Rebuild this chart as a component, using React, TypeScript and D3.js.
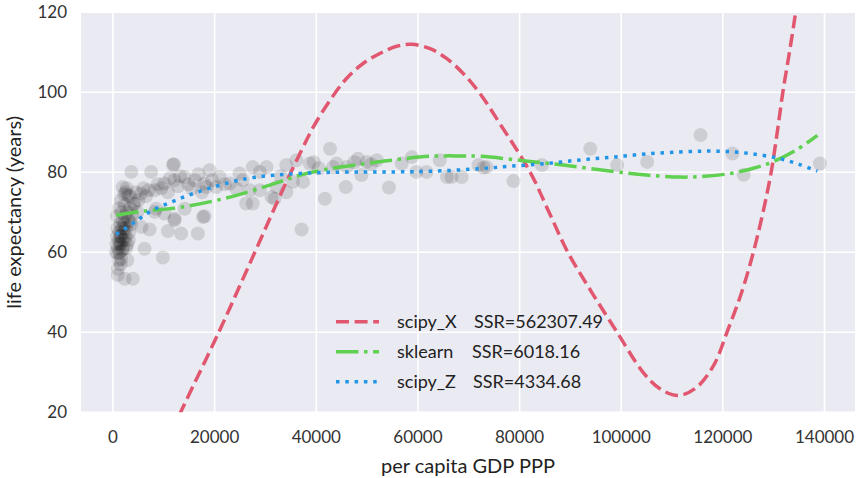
import * as d3 from 'd3';
import { useEffect, useRef } from 'react';

// scatter: per capita GDP PPP vs life expectancy
const gdp = [
  700, 800, 900, 1000, 1100, 1200, 1300, 1400, 1500, 1600, 1700, 1800, 1900, 2000, 2100, 2200, 2300, 2400,
  2500, 2600, 2700, 2800, 3000, 3200, 3400, 3600, 3800, 4000, 1000, 1600, 950, 950, 2300, 3900, 1300, 1500,
  2800, 3300, 1900, 2900, 2300, 4200, 3600, 800, 1200, 1600, 2500, 3300, 4500, 5000, 4800, 5600, 6200, 7200,
  9800, 10800, 13400, 16700, 12100, 10100, 18000, 8200, 14100, 8500, 17700, 12100,
  5500, 6000, 6500, 7000, 7500, 8200, 8800, 9500, 10100, 10800, 11200, 11800, 12000, 12100, 12800, 13200,
  14100, 14800, 15500, 16100, 16800, 17500, 18000, 18400, 19000, 19500, 20300, 21000, 22000, 23000, 24300,
  24900, 25500, 26200, 26900, 27500, 27500, 28900, 28900, 30200, 31200, 31800, 32200, 33000, 34100, 34100,
  35400, 36100, 37100, 37400, 38700, 39500, 40500, 41700, 42700, 43300, 44000, 45800, 46000, 47500, 48200,
  48900, 49900, 50800, 51900, 54300, 56800, 58800, 59700, 61700, 64300, 65700, 66600, 68600, 71900, 72900,
  73500, 78800, 84400, 93900, 99200, 105100, 115600, 121900, 124100, 139100,
  600, 1100, 1400, 1800, 2100, 2600, 3100, 1700, 2200, 2700,
];
const lifeExp = [
  62, 64, 66, 61, 63, 65, 60, 67, 62, 64, 66, 63, 68, 61, 65, 67, 63, 69,
  64, 66, 70, 62, 68, 65, 71, 67, 69, 72, 59.7, 58.4, 55.9, 54.3, 53.4, 53.4, 62.2, 57,
  58, 67.6, 76.3, 74.3, 71.8, 72.2, 80.1, 69, 71, 73, 75, 74, 75, 73, 70, 66.3, 60.9, 65.7,
  58.7, 65.3, 64.7, 64.7, 68, 69.7, 69, 70.1, 70.9, 70.9, 68.8, 68.4,
  74.7, 76, 74, 75.5, 80.1, 75.5, 77, 76, 77.2, 75, 78.5, 81.9, 82, 78, 76.5, 79,
  78.8, 77, 76, 78, 79.5, 75, 77.2, 76.3, 80.5, 78, 76.3, 78.8, 77, 77.2, 75.9,
  79.7, 78, 72.2, 75.5, 72.2, 81.3, 80.1, 75.5, 81.3, 73.8, 73.4, 76.3, 79, 81.8, 75,
  77.6, 83, 65.7, 77.6, 82.2, 82.5, 81, 73.4, 85.9, 81.3, 82.2, 76.3, 81.3, 82.5, 83.4,
  79.3, 82.6, 82, 83, 76.2, 82.2, 83.8, 80.1, 80.1, 83, 78.8, 78.8, 78.8, 81.8, 81.2,
  81.3, 77.8, 81.8, 85.9, 81.8, 82.6, 89.3, 84.7, 79.4, 82.2,
  60, 58, 64, 60.5, 66, 61, 63, 70, 74.5, 76,
];

// fitted curves
const scipyXGdp = [11500, 13300, 20800, 27900, 33800, 37100, 39400, 42700, 45900, 49200, 52500, 55800, 58800, 62400, 65700, 68900, 72200, 76100, 82100, 85800, 89500, 94200, 99200, 104300, 107700, 111300, 114900, 118300, 120800, 123700, 126000, 127900, 129500, 130700, 131800, 133100, 134200, 134500];
const scipyXLife = [15, 20, 40, 60, 76.75, 85.5, 91.3, 98, 103.4, 107.2, 109.7, 111.5, 112, 110.9, 108.4, 104.7, 99.7, 92.2, 80, 70, 60, 50, 40, 30, 25.8, 24.2, 26.3, 32, 40, 50, 60, 70, 80, 90, 100, 110, 119, 122];

const sklearnGdp = [630, 6000, 13100, 23000, 32800, 36700, 43000, 49900, 56000, 62400, 68000, 72200, 80100, 88600, 98500, 105000, 111600, 116500, 121500, 126000, 130000, 134500, 138600];
const sklearnLife = [69.25, 70.3, 71.2, 73.8, 77.6, 79.25, 81, 82.2, 83.2, 84, 84.1, 84, 83, 81.8, 80.2, 79.3, 78.8, 79, 79.7, 81, 82.7, 85.6, 89.25];

const scipyZGdp = [630, 3900, 7200, 13100, 19700, 26200, 31500, 36700, 43000, 49900, 56000, 62400, 72200, 78000, 85300, 92000, 98500, 105000, 111600, 117000, 122100, 127000, 131300, 135000, 138600];
const scipyZLife = [64.5, 67.2, 70.1, 73.4, 76.3, 78.4, 79.25, 79.7, 80, 80.1, 80.1, 80.25, 80.9, 81.5, 82.2, 83.1, 83.8, 84.6, 85.1, 85.3, 85.1, 84.4, 83.4, 82, 80.3];

const seriesNames = ['scipy_X', 'sklearn', 'scipy_Z'];
const ssrLabels = ['SSR=562307.49', 'SSR=6018.16', 'SSR=4334.68'];
const xTicks = [0, 20000, 40000, 60000, 80000, 100000, 120000, 140000];
const yTicks = [20, 40, 60, 80, 100, 120];

const W = 858;
const H = 478;
const FONT = 'Lato, "Open Sans", sans-serif';

export default function App() {
  const ref = useRef<SVGSVGElement>(null);

  useEffect(() => {
    if (!ref.current) return;
    const svg = d3.select(ref.current);
    svg.selectAll('*').remove();

    const m = { left: 81, top: 12.3, right: 855, bottom: 412.3 };
    const x = d3.scaleLinear().domain([-6300, 146000]).range([m.left, m.right]);
    const y = d3.scaleLinear().domain([20, 120]).range([m.bottom, m.top]);

    svg.append('defs').append('clipPath').attr('id', 'plot-clip')
      .append('rect')
      .attr('x', m.left).attr('y', m.top)
      .attr('width', m.right - m.left).attr('height', m.bottom - m.top);

    // фон и сетка
    svg.append('rect')
      .attr('x', m.left).attr('y', m.top)
      .attr('width', m.right - m.left).attr('height', m.bottom - m.top)
      .attr('fill', '#eaeaf2');

    const grid = svg.append('g').attr('stroke', '#fff').attr('stroke-width', 1.6);
    xTicks.forEach((t) => {
      grid.append('line').attr('x1', x(t)).attr('x2', x(t)).attr('y1', m.top).attr('y2', m.bottom);
    });
    yTicks.forEach((t) => {
      grid.append('line').attr('x1', m.left).attr('x2', m.right).attr('y1', y(t)).attr('y2', y(t));
    });

    // tick labels
    xTicks.forEach((t) => {
      svg.append('text')
        .text(String(t))
        .attr('x', x(t)).attr('y', 443)
        .attr('text-anchor', 'middle')
        .attr('font-family', FONT).attr('font-size', 17)
        .attr('fill', '#333');
    });
    yTicks.forEach((t) => {
      svg.append('text')
        .text(String(t))
        .attr('x', 67).attr('y', y(t))
        .attr('dy', '0.35em')
        .attr('text-anchor', 'end')
        .attr('font-family', FONT).attr('font-size', 17)
        .attr('fill', '#333');
    });

    svg.append('text')
      .text('per capita GDP PPP')
      .attr('x', (m.left + m.right) / 2).attr('y', 473)
      .attr('text-anchor', 'middle')
      .attr('font-family', FONT).attr('font-size', 20)
      .attr('fill', '#222');
    svg.append('text')
      .text('life expectancy (years)')
      .attr('transform', `translate(21, ${(m.top + m.bottom) / 2}) rotate(-90)`)
      .attr('text-anchor', 'middle')
      .attr('font-family', FONT).attr('font-size', 20)
      .attr('fill', '#222');

    const plot = svg.append('g').attr('clip-path', 'url(#plot-clip)');

    // точки
    plot.append('g')
      .selectAll('circle')
      .data(gdp.map((g, i) => [g, lifeExp[i]]))
      .join('circle')
      .attr('cx', (d) => x(d[0]))
      .attr('cy', (d) => y(d[1]))
      .attr('r', 7)
      .attr('fill', '#000')
      .attr('fill-opacity', 0.12);

    const line = d3.line<number[]>()
      .x((d) => x(d[0]))
      .y((d) => y(d[1]))
      .curve(d3.curveCatmullRom.alpha(0.5));

    const styles = [
      { color: '#e0576f', dash: '13 5.6' },
      { color: '#5fd04f', dash: '22.4 5.6 3.5 5.6' },
      { color: '#2196e9', dash: '3.5 5.8' },
    ];
    const curves = [
      scipyXGdp.map((g, i) => [g, scipyXLife[i]]),
      sklearnGdp.map((g, i) => [g, sklearnLife[i]]),
      scipyZGdp.map((g, i) => [g, scipyZLife[i]]),
    ];
    curves.forEach((pts, i) => {
      plot.append('path')
        .attr('d', line(pts))
        .attr('fill', 'none')
        .attr('stroke', styles[i].color)
        .attr('stroke-width', 3.5)
        .attr('stroke-dasharray', styles[i].dash);
    });

    // легенда
    const ssrX = [474, 472, 473];
    seriesNames.forEach((name, i) => {
      const ly = 321.7 + i * 30;
      svg.append('line')
        .attr('x1', 336).attr('x2', 379)
        .attr('y1', ly).attr('y2', ly)
        .attr('stroke', styles[i].color)
        .attr('stroke-width', 3.5)
        .attr('stroke-dasharray', styles[i].dash);
      svg.append('text')
        .text(name)
        .attr('x', 397).attr('y', ly).attr('dy', '0.35em')
        .attr('font-family', FONT).attr('font-size', 18)
        .attr('fill', '#222');
      svg.append('text')
        .text(ssrLabels[i])
        .attr('x', ssrX[i]).attr('y', ly).attr('dy', '0.35em')
        .attr('font-family', FONT).attr('font-size', 18)
        .attr('fill', '#222');
    });
  }, []);

  return (
    <svg
      ref={ref}
      width={W}
      height={H}
      style={{ position: 'absolute', left: 0, top: 0, background: '#fff' }}
    />
  );
}
